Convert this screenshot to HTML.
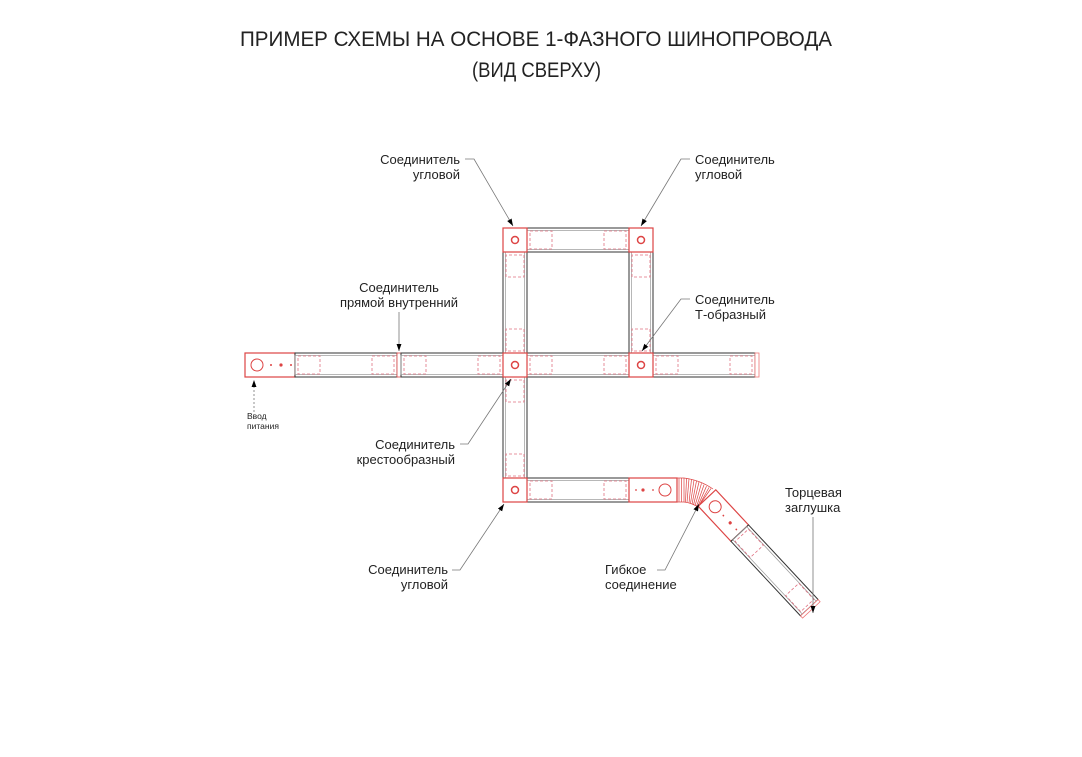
<!DOCTYPE html>
<html><head><meta charset="utf-8"><style>
body{margin:0;background:#fff;}
svg{display:block}
text{font-family:"Liberation Sans","DejaVu Sans",sans-serif;fill:#222}
</style></head><body>
<svg width="1082" height="757" viewBox="0 0 1082 757" xmlns="http://www.w3.org/2000/svg">
<defs>
<marker id="ar" viewBox="0 0 10 10" refX="10" refY="5" markerWidth="9" markerHeight="9" orient="auto-start-reverse"><path d="M0,1.5 L10,5 L0,8.5 Z" fill="#000"/></marker>
<g id="th"><rect x="0" y="0" width="102" height="24" fill="#fff" stroke="#333" stroke-width="1"/><rect x="0" y="2.5" width="102" height="19" fill="none" stroke="#999" stroke-width="0.7"/>
<rect x="3" y="3" width="22" height="18" fill="none" stroke="#e07080" stroke-width="0.8" stroke-dasharray="3,2"/>
<rect x="77" y="3" width="22" height="18" fill="none" stroke="#e07080" stroke-width="0.8" stroke-dasharray="3,2"/></g>
<g id="cn"><rect x="0" y="0" width="24" height="24" fill="#fff" stroke="#d44" stroke-width="1.2"/><circle cx="12" cy="12" r="3.5" fill="none" stroke="#d44" stroke-width="1.5"/></g>
</defs>
<text x="240" y="46" font-size="21" textLength="592" lengthAdjust="spacingAndGlyphs">ПРИМЕР СХЕМЫ НА ОСНОВЕ 1-ФАЗНОГО ШИНОПРОВОДА</text>
<text x="472" y="77" font-size="21" textLength="129" lengthAdjust="spacingAndGlyphs">(ВИД СВЕРХУ)</text>

<rect x="245" y="353" width="50" height="24" fill="#fff" stroke="#d44" stroke-width="1.2"/>
<circle cx="257" cy="365" r="6" fill="none" stroke="#d44"/>
<circle cx="271" cy="365" r="1" fill="#d44"/><circle cx="281" cy="365" r="1.6" fill="#d44"/><circle cx="291" cy="365" r="1" fill="#d44"/>
<use href="#th" x="295" y="353"/>
<rect x="397" y="353" width="4" height="24" fill="#fff" stroke="#d44" stroke-width="0.8"/>
<use href="#th" x="401" y="353"/>
<use href="#th" x="527" y="353"/>
<use href="#th" x="653" y="353"/>
<rect x="755" y="353" width="4" height="24" fill="#fff" stroke="#e77" stroke-width="0.8"/>
<use href="#th" x="527" y="228"/>
<use href="#th" transform="translate(527,252) rotate(90)"/>
<use href="#th" transform="translate(653,252) rotate(90)"/>
<use href="#th" transform="translate(527,377) rotate(90)"/>
<use href="#th" x="527" y="478"/>
<use href="#cn" x="503" y="228"/><use href="#cn" x="629" y="228"/>
<use href="#cn" x="503" y="353"/><use href="#cn" x="629" y="353"/>
<use href="#cn" x="503" y="478"/>
<rect x="629" y="478" width="48" height="24" fill="#fff" stroke="#d44" stroke-width="1.2"/>
<circle cx="636" cy="490" r="0.9" fill="#d44"/><circle cx="643" cy="490" r="1.6" fill="#d44"/><circle cx="653" cy="490" r="0.9" fill="#d44"/>
<circle cx="665" cy="490" r="6" fill="none" stroke="#d44"/>
<g stroke="#d44" stroke-width="0.7" fill="none">
<path d="M677,478 L684,478 Q700,480 713,489"/>
<path d="M677,502 L684,502 Q692,503 698,507"/>
<line x1="679" y1="478" x2="679" y2="502"/><line x1="681.5" y1="478" x2="681.5" y2="502"/><line x1="684" y1="478" x2="684" y2="502"/>
<line x1="686.5" y1="478.3" x2="685.5" y2="502.2"/><line x1="689" y1="478.7" x2="687" y2="502.5"/><line x1="691.5" y1="479.2" x2="689" y2="503"/>
<line x1="694" y1="480" x2="690.5" y2="503.5"/><line x1="696.5" y1="481" x2="692" y2="504.3"/><line x1="699" y1="482" x2="693.5" y2="505"/>
<line x1="701.5" y1="483.3" x2="695" y2="505.8"/><line x1="704" y1="484.7" x2="696.5" y2="506.5"/><line x1="706.5" y1="486.2" x2="697.5" y2="507"/>
<line x1="709" y1="487.5" x2="698" y2="507.3"/><line x1="711" y1="488.5" x2="698" y2="507"/>
</g>
<g transform="translate(707,498) rotate(47)">
<rect x="0" y="-12" width="48" height="24" fill="#fff" stroke="#d44" stroke-width="1.2"/>
<circle cx="12" cy="0" r="6" fill="none" stroke="#d44"/>
<circle cx="24" cy="0" r="0.9" fill="#d44"/><circle cx="34" cy="0" r="1.6" fill="#d44"/><circle cx="43" cy="0" r="0.9" fill="#d44"/>
<use href="#th" x="48" y="-12"/>
<rect x="150" y="-12" width="3" height="24" fill="#fff" stroke="#e77" stroke-width="0.8"/>
</g>
<g stroke="#777" stroke-width="0.8" fill="none">
<polyline points="465,159 474,159 513,226" marker-end="url(#ar)"/>
<polyline points="690,159 681,159 641,226" marker-end="url(#ar)"/>
<line x1="399" y1="312" x2="399" y2="351" marker-end="url(#ar)"/>
<polyline points="690,299 681,299 642,351" marker-end="url(#ar)"/>
<line x1="254" y1="412" x2="254" y2="380" stroke-dasharray="2,2" marker-end="url(#ar)"/>
<polyline points="460,444 468,444 511,379" marker-end="url(#ar)"/>
<polyline points="452,570 460,570 504,504" marker-end="url(#ar)"/>
<polyline points="657,570 665,570 699,504" marker-end="url(#ar)"/>
<line x1="813" y1="517" x2="813" y2="613" marker-end="url(#ar)"/>
</g>
<g font-size="13">
<text x="460" y="164" text-anchor="end">Соединитель</text><text x="460" y="179" text-anchor="end">угловой</text>
<text x="695" y="164">Соединитель</text><text x="695" y="179">угловой</text>
<text x="399" y="292" text-anchor="middle">Соединитель</text><text x="399" y="307" text-anchor="middle">прямой внутренний</text>
<text x="695" y="304">Соединитель</text><text x="695" y="319">Т-образный</text>
<text x="455" y="449" text-anchor="end">Соединитель</text><text x="455" y="464" text-anchor="end">крестообразный</text>
<text x="448" y="574" text-anchor="end">Соединитель</text><text x="448" y="589" text-anchor="end">угловой</text>
<text x="605" y="574">Гибкое</text><text x="605" y="589">соединение</text>
<text x="785" y="497">Торцевая</text><text x="785" y="512">заглушка</text>
</g>
<text x="247" y="419" font-size="8.5">Ввод</text><text x="247" y="429" font-size="8.5">питания</text>
</svg>
</body></html>
